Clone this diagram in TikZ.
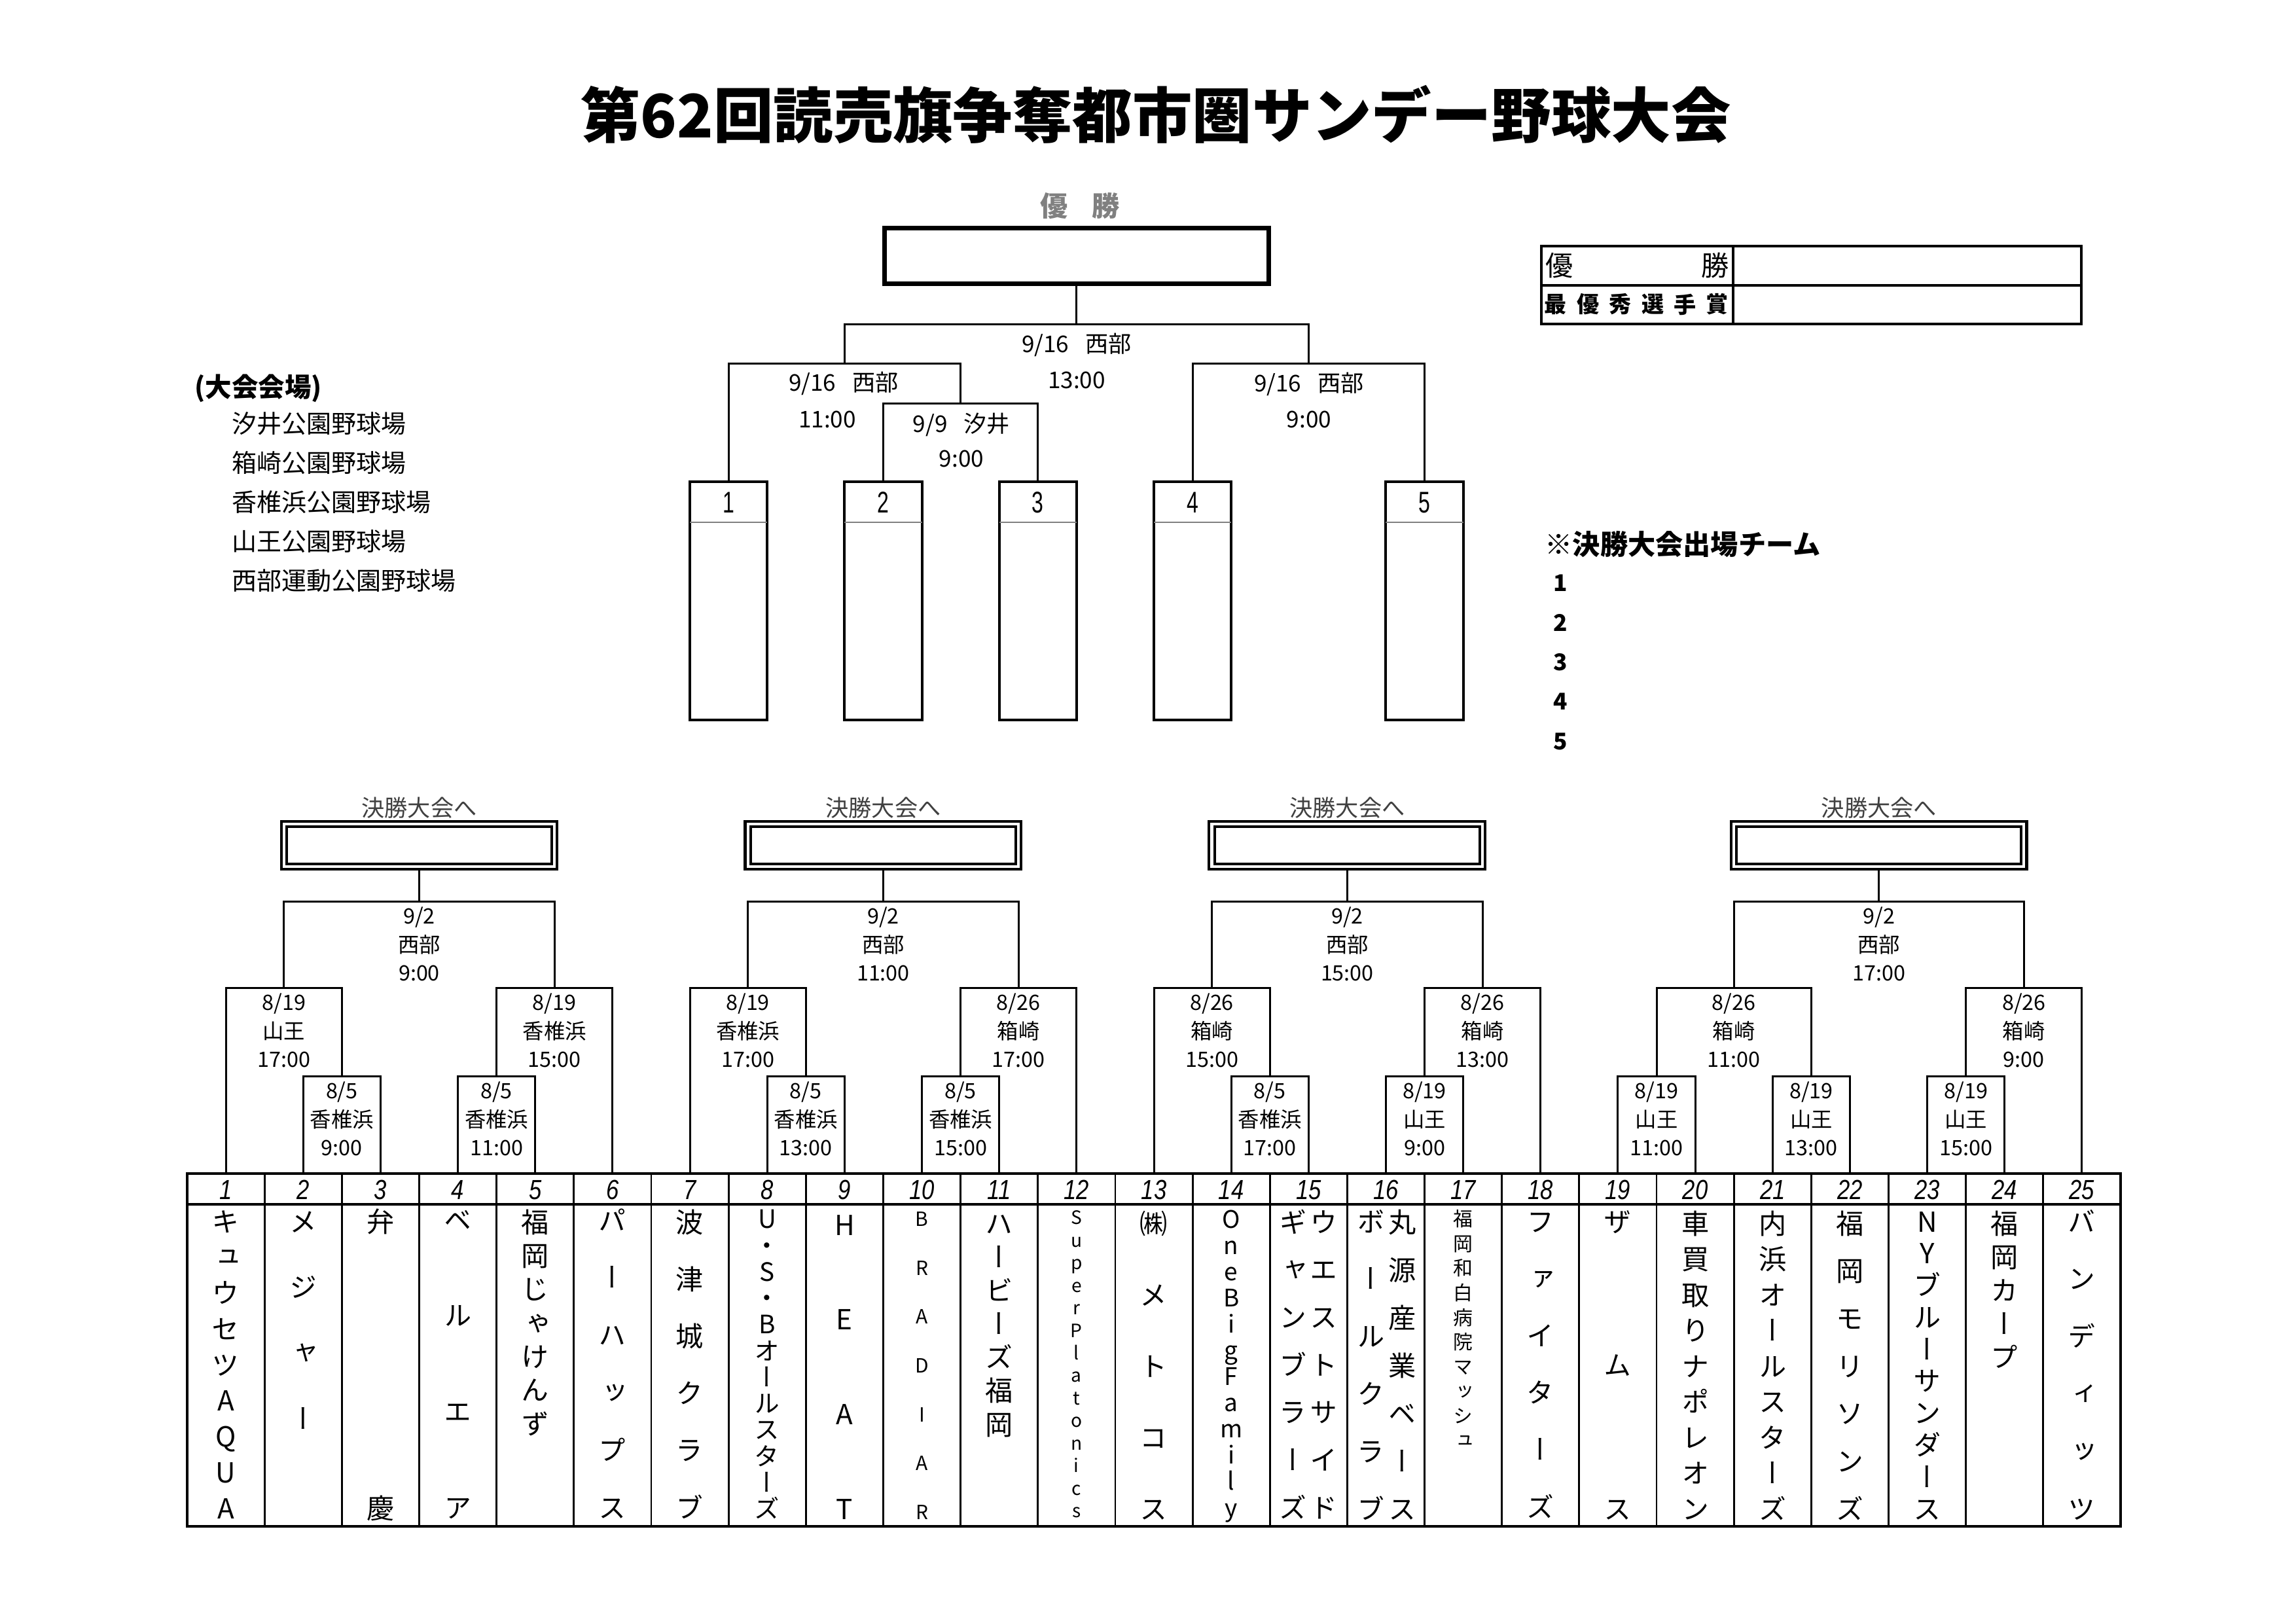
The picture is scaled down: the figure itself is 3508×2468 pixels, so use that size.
\documentclass[tikz,border=0pt]{standalone}
\usepackage{fontspec}
\setmainfont{Noto Sans CJK JP}
\newfontfamily\jp{Noto Sans CJK JP}
\newfontfamily\jpv[RawFeature=+vert]{Noto Sans CJK JP}
\newfontfamily\nar[FakeStretch=0.82]{Liberation Sans}
\newfontfamily\narr[FakeStretch=0.7]{Liberation Sans}
\usetikzlibrary{calc}
\newcommand\fsz[1]{\fontsize{#1pt}{#1pt}\selectfont}
\definecolor{lgray}{gray}{0.5}
\definecolor{dgray}{gray}{0.25}
% vertical team name: id, column, dx, y first, y last, size, list
\newcommand\vcol[7]{%
  \foreach \ch [count=\k] in {#7} {\xdef\vcn{\k}}%
  \foreach \ch [count=\k] in {#7} {%
    \pgfmathsetmacro\vy{#4+(\k-1)*(#5-#4)/max(\vcn-1,1)+1.3357*#6}%
    \pgfmathsetmacro\vx{286+(#2-0.5)*118.16+#3}%
    \node[tch, font=\jpv\fsz{#6}] (#1-\k) at (\vx,\vy) {\ch};
  }%
}
% bracket label (three lines) below a bracket top coordinate
\newcommand\blab[4]{%
  \path (#1) ++(0,34) node[lab] (#1-a) {#2} ++(0,44) node[lab] (#1-b) {#3} ++(0,43) node[lab] (#1-c) {#4};%
}
\begin{document}
\begin{tikzpicture}[x=0.01cm,y=-0.01cm,
  br/.style={line width=0.85pt},
  lab/.style={font=\jp\fsz{9.2}, inner sep=0, anchor=base},
  tlab/.style={font=\jp\fsz{10}, inner sep=0, anchor=base},
  tch/.style={inner sep=0, anchor=base},
  gbox/.style={draw, double=white, double distance=1.15pt, line width=1.15pt, inner sep=0, minimum height=0.653cm},
  fbox/.style={draw, line width=1.15pt, inner sep=0, outer sep=0, minimum width=1.1816cm, minimum height=3.64cm},
  fnum/.style={font=\narr\fsz{13}, inner sep=0, anchor=base},
  toward/.style={font=\jp\fsz{10}, text=dgray, inner sep=0, anchor=base}
]
\fill[white] (0,0) rectangle (3508,2468);
\useasboundingbox (0,0) rectangle (3508,2468);

% ---------- title ----------
\node[font=\jp\bfseries\fsz{26}, inner sep=0] (title) at (1766,175) {第62回読売旗争奪都市圏サンデー野球大会};

% ---------- venues ----------
\node[font=\jp\bfseries\fsz{11.5}, inner sep=0, anchor=west] (venhd) at (297,593) {(大会会場)};
\node[font=\jp\fsz{10.8}, inner sep=0, anchor=west] (ven1) at (354,647) {汐井公園野球場};
\node[font=\jp\fsz{10.8}, inner sep=0, anchor=west] (ven2) at (354,707) {箱崎公園野球場};
\node[font=\jp\fsz{10.8}, inner sep=0, anchor=west] (ven3) at (354,767) {香椎浜公園野球場};
\node[font=\jp\fsz{10.8}, inner sep=0, anchor=west] (ven4) at (354,827) {山王公園野球場};
\node[font=\jp\fsz{10.8}, inner sep=0, anchor=west] (ven5) at (354,887) {西部運動公園野球場};

% ---------- award table ----------
\node[draw, line width=1.15pt, inner sep=0, minimum width=8.25cm, minimum height=1.19cm] (award) at (2767.5,435.5) {};
\draw[line width=1.15pt] (award.west) -- (award.east);
\draw[line width=1.15pt] ($(award.north west)+(295,0)$) -- ($(award.south west)+(295,0)$);
\node[font=\jp\fsz{12}, inner sep=0] (aw1) at (2383,405.5) {優};
\node[font=\jp\fsz{12}, inner sep=0] (aw2) at (2621,405.5) {勝};
\foreach \c [count=\k] in {最,優,秀,選,手,賞}
  \node[font=\jp\bfseries\fsz{9.7}, inner sep=0] (mvp\k) at ({2377+(\k-1)*49.4},465) {\c};

% ---------- finalists list ----------
\node[font=\jp\bfseries\fsz{12}, inner sep=0, anchor=west] (fhd) at (2360,832) {※決勝大会出場チーム};
\foreach \y [count=\k] in {891,951,1012,1072,1133}
  \node[font=\jp\bfseries\fsz{10}, inner sep=0] (fl\k) at (2384,\y) {\k};

% ---------- final tournament ----------
\node[font=\jp\bfseries\fsz{12}, text=lgray, inner sep=0] (yusho) at (1650,315) {優\hspace{0.37cm}勝};
\node[draw, line width=2pt, minimum width=5.87cm, minimum height=0.85cm, inner sep=0, outer sep=0] (champ) at (1644.84,391) {};

\foreach \x [count=\k] in {1113.12,1349.44,1585.76,1822.08,2176.56} {
  \node[fbox] (F\k) at (\x,918) {};
  \draw[gray, line width=0.5pt] ($(F\k.north west)+(0,62)$) -- ($(F\k.north east)+(0,62)$);
  \node[fnum] (F\k n) at (\x,783) {\k};
}
\coordinate (Mq) at (1467.6,616);
\coordinate (Msl) at (1290.36,555);
\coordinate (Msr) at (1999.32,555);
\coordinate (Mf) at (1644.84,495);
\draw[br] (F2.north) |- (Mq) -| (F3.north);
\draw[br] (F1.north) |- (Msl) -| (Mq);
\draw[br] (F4.north) |- (Msr) -| (F5.north);
\draw[br] (Msl) |- (Mf) -| (Msr);
\draw[br] (champ.south) -- (Mf);

\node[tlab] (ftl1) at (1645,538) {9/16\hspace{0.25cm}西部};
\node[tlab] (ftl2) at (1645,593) {13:00};
\node[tlab] (sll1) at (1289,597) {9/16\hspace{0.25cm}西部};
\node[tlab] (sll2) at (1264,653) {11:00};
\node[tlab] (qfl1) at (1469,660) {9/9\hspace{0.25cm}汐井};
\node[tlab] (qfl2) at (1469,713) {9:00};
\node[tlab] (srl1) at (2000,598) {9/16\hspace{0.25cm}西部};
\node[tlab] (srl2) at (2000,653) {9:00};

% ---------- team table ----------
\foreach \i in {1,...,25}
  \coordinate (T\i) at ({286+(\i-0.5)*118.16},1793);
\draw[line width=1.2pt] (286,1793) rectangle (3240,2332);
\draw[line width=1.2pt] (286,1840) -- (3240,1840);
\foreach \i in {1,...,24}
  \draw[line width=0.8pt] ({286+\i*118.16},1793) -- ({286+\i*118.16},2332);
\foreach \i in {1,...,25}
  \node[font=\nar\itshape\fsz{12}, inner sep=0, anchor=base] (n\i) at ({286+(\i-0.5)*118.16},1832) {\i};

% ---------- block brackets ----------
% block 1
\coordinate (A23) at (522.32,1644);
\coordinate (A45) at (758.64,1644);
\coordinate (AL) at (433.7,1509);
\coordinate (AR) at (847.26,1509);
\coordinate (AT) at (640.48,1377);
\draw[br] (T2) |- (A23) -| (T3);
\draw[br] (T4) |- (A45) -| (T5);
\draw[br] (T1) |- (AL) -| (A23);
\draw[br] (A45) |- (AR) -| (T6);
\draw[br] (AL) |- (AT) -| (AR);
\node[gbox, minimum width=4.1356cm] (G1) at (640.48,1291.35) {};
\draw[br] (G1.south) -- (AT);
\node[toward] (G1t) at (640.48,1247) {決勝大会へ};
\blab{AT}{9/2}{西部}{9:00}
\blab{AL}{8/19}{山王}{17:00}
\blab{AR}{8/19}{香椎浜}{15:00}
\blab{A23}{8/5}{香椎浜}{9:00}
\blab{A45}{8/5}{香椎浜}{11:00}

% block 2
\coordinate (B89) at (1231.28,1644);
\coordinate (B1011) at (1467.6,1644);
\coordinate (BL) at (1142.66,1509);
\coordinate (BR) at (1556.22,1509);
\coordinate (BT) at (1349.44,1377);
\draw[br] (T8) |- (B89) -| (T9);
\draw[br] (T10) |- (B1011) -| (T11);
\draw[br] (T7) |- (BL) -| (B89);
\draw[br] (B1011) |- (BR) -| (T12);
\draw[br] (BL) |- (BT) -| (BR);
\node[gbox, minimum width=4.1356cm] (G2) at (1349.44,1291.35) {};
\draw[br] (G2.south) -- (BT);
\node[toward] (G2t) at (1349.44,1247) {決勝大会へ};
\blab{BT}{9/2}{西部}{11:00}
\blab{BL}{8/19}{香椎浜}{17:00}
\blab{BR}{8/26}{箱崎}{17:00}
\blab{B89}{8/5}{香椎浜}{13:00}
\blab{B1011}{8/5}{香椎浜}{15:00}

% block 3
\coordinate (C1415) at (1940.24,1644);
\coordinate (C1617) at (2176.56,1644);
\coordinate (CL) at (1851.62,1509);
\coordinate (CR) at (2265.18,1509);
\coordinate (CT) at (2058.4,1377);
\draw[br] (T14) |- (C1415) -| (T15);
\draw[br] (T16) |- (C1617) -| (T17);
\draw[br] (T13) |- (CL) -| (C1415);
\draw[br] (C1617) |- (CR) -| (T18);
\draw[br] (CL) |- (CT) -| (CR);
\node[gbox, minimum width=4.1356cm] (G3) at (2058.4,1291.35) {};
\draw[br] (G3.south) -- (CT);
\node[toward] (G3t) at (2058.4,1247) {決勝大会へ};
\blab{CT}{9/2}{西部}{15:00}
\blab{CL}{8/26}{箱崎}{15:00}
\blab{CR}{8/26}{箱崎}{13:00}
\blab{C1415}{8/5}{香椎浜}{17:00}
\blab{C1617}{8/19}{山王}{9:00}

% block 4
\coordinate (D1920) at (2531.04,1644);
\coordinate (D2122) at (2767.36,1644);
\coordinate (D2324) at (3003.68,1644);
\coordinate (DL) at (2649.2,1509);
\coordinate (DR) at (3092.3,1509);
\coordinate (DT) at (2870.75,1377);
\draw[br] (T19) |- (D1920) -| (T20);
\draw[br] (T21) |- (D2122) -| (T22);
\draw[br] (T23) |- (D2324) -| (T24);
\draw[br] (D1920) |- (DL) -| (D2122);
\draw[br] (D2324) |- (DR) -| (T25);
\draw[br] (DL) |- (DT) -| (DR);
\node[gbox, minimum width=4.431cm] (G4) at (2870.75,1291.35) {};
\draw[br] (G4.south) -- (DT);
\node[toward] (G4t) at (2870.75,1247) {決勝大会へ};
\blab{DT}{9/2}{西部}{17:00}
\blab{DL}{8/26}{箱崎}{11:00}
\blab{DR}{8/26}{箱崎}{9:00}
\blab{D1920}{8/19}{山王}{11:00}
\blab{D2122}{8/19}{山王}{13:00}
\blab{D2324}{8/19}{山王}{15:00}

% ---------- team names ----------
\vcol{t1}{1}{0}{1866}{2304}{12}{キ,ュ,ウ,セ,ツ,A,Q,U,A}
\vcol{t2}{2}{0}{1866}{2167}{12}{メ,ジ,ャ,ー}
\vcol{t3}{3}{0}{1866}{2304}{12}{弁,慶}
\vcol{t4}{4}{0}{1863}{2303}{12}{ベ,ル,エ,ア}
\vcol{t5}{5}{0}{1867}{2175}{12}{福,岡,じ,ゃ,け,ん,ず}
\vcol{t6}{6}{0}{1864}{2303}{12}{パ,ー,ハ,ッ,プ,ス}
\vcol{t7}{7}{0}{1867}{2303}{12}{波,津,城,ク,ラ,ブ}
\vcol{t8}{8}{0}{1862}{2305}{11}{U,・,S,・,B,オ,ー,ル,ス,タ,ー,ズ}
\vcol{t9}{9}{0}{1871}{2305}{12}{H,E,A,T}
\vcol{t10}{10}{0}{1862}{2310}{8.5}{B,R,A,D,I,A,R}
\vcol{t11}{11}{0}{1869}{2176}{12}{ハ,ー,ビ,ー,ズ,福,岡}
\vcol{t12}{12}{0}{1860}{2308}{8}{S,u,p,e,r,P,l,a,t,o,n,i,c,s}
\vcol{t13}{13}{0}{1869}{2305}{12}{㈱,メ,ト,コ,ス}
\vcol{t14}{14}{0}{1862}{2303}{10.5}{O,n,e,B,i,g,F,a,m,i,l,y}
\vcol{t15a}{15}{-24}{1867}{2303}{12}{ギ,ャ,ン,ブ,ラ,ー,ズ}
\vcol{t15b}{15}{23}{1867}{2303}{12}{ウ,エ,ス,ト,サ,イ,ド}
\vcol{t16a}{16}{-23}{1866}{2305}{12}{ボ,ー,ル,ク,ラ,ブ}
\vcol{t16b}{16}{25}{1867}{2305}{12}{丸,源,産,業,ベ,ー,ス}
\vcol{t17}{17}{0}{1862}{2201}{8.5}{福,岡,和,白,病,院,マ,ッ,シ,ュ}
\vcol{t18}{18}{0}{1866}{2302}{12}{フ,ァ,イ,タ,ー,ズ}
\vcol{t19}{19}{0}{1866}{2305}{12}{ザ,ム,ス}
\vcol{t20}{20}{0}{1869}{2305}{12}{車,買,取,り,ナ,ポ,レ,オ,ン}
\vcol{t21}{21}{0}{1869}{2305}{12}{内,浜,オ,ー,ル,ス,タ,ー,ズ}
\vcol{t22}{22}{0}{1869}{2305}{12}{福,岡,モ,リ,ソ,ン,ズ}
\vcol{t23}{23}{0}{1866}{2305}{12}{N,Y,ブ,ル,ー,サ,ン,ダ,ー,ス}
\vcol{t24}{24}{0}{1869}{2073}{12}{福,岡,カ,ー,プ}
\vcol{t25}{25}{0}{1866}{2305}{12}{バ,ン,デ,ィ,ッ,ツ}
\end{tikzpicture}
\end{document}
